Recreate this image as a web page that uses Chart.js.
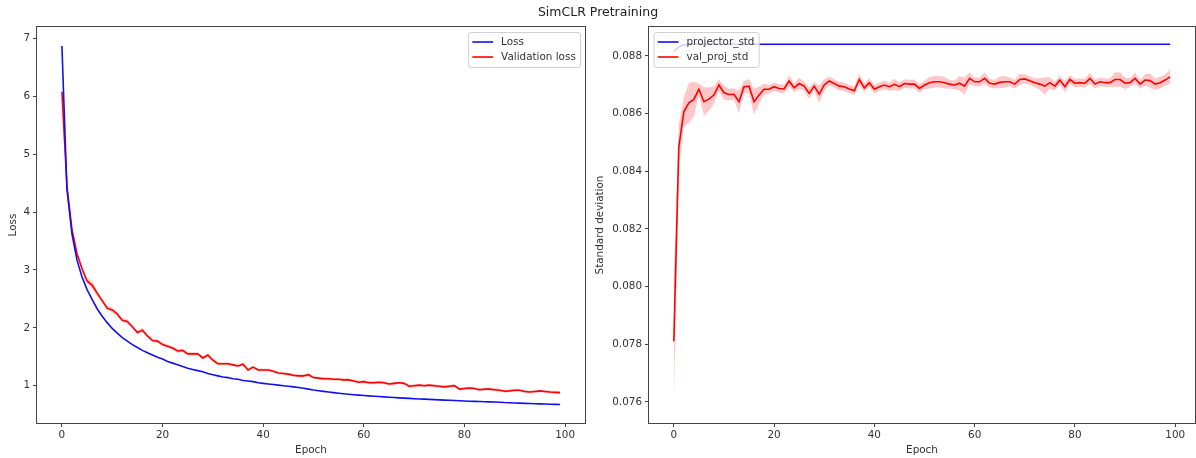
<!DOCTYPE html>
<html><head><meta charset="utf-8">
<script src="https://cdn.jsdelivr.net/npm/chart.js@4.4.1/dist/chart.umd.min.js"></script>
<style>
html,body{margin:0;padding:0;background:#fff;width:1196px;height:458px;overflow:hidden;}
#c1{position:absolute;left:0;top:0;}
#c2{position:absolute;left:590px;top:0;}
#title{position:absolute;left:0;top:5px;width:1196px;text-align:center;font-family:"DejaVu Sans";font-size:12.5px;line-height:14px;color:#222;}
</style></head><body>
<canvas id="c1" width="590" height="458"></canvas>
<canvas id="c2" width="606" height="458"></canvas>
<div id="title">SimCLR Pretraining</div>
<script>
// ---------- data ----------
const epochs = Array.from({length: 100}, (_, i) => i);
const xTicks = [0, 20, 40, 60, 80, 100];
const lossTicks = [1, 2, 3, 4, 5, 6, 7];
const stdTicks = [0.076, 0.078, 0.080, 0.082, 0.084, 0.086, 0.088];

const trainLoss = [6.87,4.40,3.62,3.17,2.88,2.66,2.49,2.33,2.20,2.09,
  1.99,1.91,1.83,1.77,1.71,1.66,1.61,1.57,1.53,1.49,
  1.46,1.42,1.39,1.36,1.33,1.30,1.28,1.26,1.24,1.21,
  1.19,1.17,1.15,1.14,1.12,1.11,1.09,1.08,1.07,1.05,
  1.04,1.03,1.02,1.01,1.00,0.99,0.98,0.97,0.955,0.94,
  0.925,0.913,0.902,0.891,0.88,0.87,0.861,0.852,0.844,0.837,
  0.83,0.824,0.818,0.812,0.806,0.80,0.795,0.79,0.785,0.78,
  0.775,0.771,0.767,0.763,0.759,0.755,0.751,0.747,0.743,0.739,
  0.735,0.732,0.729,0.726,0.723,0.72,0.717,0.714,0.709,0.706,
  0.702,0.699,0.695,0.692,0.689,0.686,0.683,0.68,0.677,0.674];

const valLoss = [6.08,4.45,3.70,3.28,3.02,2.81,2.74,2.60,2.47,2.34,
  2.31,2.24,2.13,2.11,2.02,1.92,1.96,1.86,1.78,1.77,
  1.71,1.68,1.65,1.60,1.61,1.55,1.55,1.55,1.48,1.53,
  1.44,1.38,1.38,1.38,1.36,1.34,1.37,1.27,1.32,1.27,
  1.27,1.27,1.25,1.22,1.21,1.20,1.18,1.17,1.17,1.19,
  1.14,1.13,1.12,1.12,1.11,1.11,1.10,1.10,1.08,1.06,
  1.07,1.05,1.05,1.06,1.05,1.03,1.04,1.05,1.04,0.99,
  1.00,1.01,1.00,1.01,1.00,0.99,0.98,0.99,1.00,0.94,
  0.95,0.96,0.95,0.93,0.94,0.94,0.93,0.92,0.905,0.91,
  0.92,0.92,0.90,0.89,0.90,0.91,0.90,0.89,0.885,0.88];

const valLossStd = [0.05,0.05,0.05,0.05,0.04,0.05,0.06,0.05,0.04,0.04,
  0.04,0.04,0.03,0.04,0.03,0.03,0.04,0.03,0.03,0.03,
  0.03,0.03,0.03,0.03,0.03,0.03,0.03,0.03,0.03,0.03,
  0.03,0.025,0.025,0.025,0.025,0.025,0.03,0.03,0.025,0.025,
  0.025,0.025,0.025,0.025,0.025,0.025,0.025,0.025,0.025,0.025,
  0.025,0.025,0.025,0.025,0.025,0.025,0.025,0.025,0.025,0.025,
  0.025,0.025,0.025,0.025,0.025,0.025,0.025,0.025,0.025,0.025,
  0.025,0.025,0.025,0.025,0.025,0.025,0.025,0.025,0.025,0.025,
  0.025,0.025,0.025,0.025,0.025,0.025,0.025,0.025,0.025,0.025,
  0.025,0.025,0.025,0.025,0.025,0.025,0.025,0.025,0.025,0.025];

const projectorStd = [0.08814,0.08832,0.08838,0.0884,0.0884,0.0884,0.0884,0.0884,0.0884,0.0884,
  0.0884,0.0884,0.0884,0.0884,0.0884,0.0884,0.0884,0.0884,0.0884,0.0884,
  0.0884,0.0884,0.0884,0.0884,0.0884,0.0884,0.0884,0.0884,0.0884,0.0884,
  0.0884,0.0884,0.0884,0.0884,0.0884,0.0884,0.0884,0.0884,0.0884,0.0884,
  0.0884,0.0884,0.0884,0.0884,0.0884,0.0884,0.0884,0.0884,0.0884,0.0884,
  0.0884,0.0884,0.0884,0.0884,0.0884,0.0884,0.0884,0.0884,0.0884,0.0884,
  0.0884,0.0884,0.0884,0.0884,0.0884,0.0884,0.0884,0.0884,0.0884,0.0884,
  0.0884,0.0884,0.0884,0.0884,0.0884,0.0884,0.0884,0.0884,0.0884,0.0884,
  0.0884,0.0884,0.0884,0.0884,0.0884,0.0884,0.0884,0.0884,0.0884,0.0884,
  0.0884,0.0884,0.0884,0.0884,0.0884,0.0884,0.0884,0.0884,0.0884,0.0884];

const valProjStd = [0.07810,0.08485,0.08606,0.08637,0.08649,0.08684,0.08641,0.08650,0.08664,0.08699,
  0.08672,0.08666,0.08667,0.08641,0.08693,0.08695,0.08641,0.08664,0.08684,0.08684,
  0.08693,0.08687,0.08685,0.08713,0.08689,0.08704,0.08695,0.08670,0.08695,0.08667,
  0.08699,0.08713,0.08704,0.08695,0.08693,0.08685,0.08679,0.08718,0.08689,0.08707,
  0.08684,0.08693,0.08699,0.08693,0.08701,0.08693,0.08704,0.08702,0.08702,0.08687,
  0.08699,0.08707,0.08710,0.08710,0.08707,0.08702,0.08699,0.08705,0.08695,0.08722,
  0.08710,0.08710,0.08722,0.08705,0.08702,0.08708,0.08710,0.08710,0.08702,0.08718,
  0.08720,0.08714,0.08707,0.08702,0.08695,0.08707,0.08695,0.08716,0.08693,0.08718,
  0.08705,0.08707,0.08705,0.08722,0.08702,0.08710,0.08707,0.08707,0.08718,0.08718,
  0.08705,0.08707,0.08722,0.08702,0.08716,0.08714,0.08702,0.08707,0.08716,0.08727];

const valProjStdDev = [0.0022,0.0008,0.0005,0.0007,0.0006,0.0002,0.0005,0.0004,0.0003,0.0002,
  0.00025,0.0002,0.0002,0.0004,0.0002,0.00025,0.00045,0.0003,0.0002,0.00015,
  0.00015,0.00015,0.00015,0.0002,0.00015,0.0002,0.00015,0.0002,0.00015,0.0003,
  0.0002,0.00015,0.00015,0.00015,0.00015,0.00015,0.00015,0.0002,0.00015,0.00015,
  0.00015,0.00015,0.00015,0.00015,0.0002,0.00015,0.00015,0.00015,0.00015,0.00015,
  0.00015,0.0002,0.0002,0.0002,0.0002,0.00015,0.00015,0.00025,0.0003,0.0002,
  0.00015,0.00015,0.0002,0.00015,0.00015,0.0002,0.0002,0.00015,0.00015,0.0002,
  0.00015,0.00015,0.00015,0.0002,0.0003,0.0002,0.00015,0.00015,0.0002,0.00015,
  0.00015,0.00015,0.00015,0.0002,0.00015,0.00015,0.00015,0.00015,0.00025,0.00025,
  0.0002,0.00015,0.0002,0.00015,0.0002,0.00025,0.0002,0.0002,0.0002,0.00025];

// ---------- style ----------
const FONT = 'DejaVu Sans';
const FS = 10.4;
const TXT = '#333';
const AX = '#444';
const BLUE = '#1010f0';
const RED = '#ff0000';
const BAND = 'rgba(255,0,0,0.22)';
const LW = 1.6;

// frame + matplotlib-like legend
const mplDecor = {
  id: 'mplDecor',
  afterDatasetsDraw(chart, args, opts) {
    const ctx = chart.ctx, a = chart.chartArea;
    ctx.save();
    ctx.strokeStyle = AX; ctx.lineWidth = 1;
    const l = Math.round(a.left) - 0.5, t = Math.round(a.top) - 0.5;
    const r = Math.round(a.right) + 0.5, b = Math.round(a.bottom) + 0.5;
    ctx.strokeRect(l, t, r - l, b - t);
    // legend
    const items = chart.data.datasets.filter(d => d.label && d.label[0] !== '_');
    ctx.font = FS + 'px "' + FONT + '"';
    const pad = 4.2, handle = 20.8, gap = 8.0, rowH = 15;
    const tw = Math.max(...items.map(d => ctx.measureText(d.label).width));
    const w = pad + handle + gap + tw + pad;
    const h = 35;
    const x = opts.loc === 'right' ? a.right - 5 - w : a.left + 4.5;
    const y = a.top + 5;
    ctx.beginPath();
    ctx.roundRect(x + 0.5, y + 0.5, w, h, 2.5);
    ctx.fillStyle = 'rgba(255,255,255,0.8)';
    ctx.fill();
    ctx.strokeStyle = '#d0d0d0';
    ctx.lineWidth = 1;
    ctx.stroke();
    items.forEach((d, i) => {
      const cy = y + 10 + i * rowH;
      ctx.beginPath();
      ctx.moveTo(x + pad, cy); ctx.lineTo(x + pad + handle, cy);
      ctx.strokeStyle = d.borderColor; ctx.lineWidth = LW; ctx.stroke();
      ctx.fillStyle = TXT; ctx.textBaseline = 'middle'; ctx.textAlign = 'left';
      ctx.fillText(d.label, x + pad + handle + gap, cy);
    });
    ctx.restore();
  }
};

function makeOptions(cfg) {
  const font = { family: FONT, size: FS };
  return {
    responsive: false, animation: false, devicePixelRatio: 1, events: [],
    layout: { padding: { left: 0, right: cfg.padRight, top: 27, bottom: 0 } },
    elements: { point: { radius: 0 }, line: { tension: 0 } },
    scales: {
      x: {
        type: 'linear', min: -4.95, max: 103.95,
        afterBuildTicks: s => { s.ticks = xTicks.map(v => ({ value: v })); },
        afterFit: s => { s.height = 35; },
        ticks: { color: TXT, font, padding: 2, maxRotation: 0, autoSkip: false, callback: v => String(v) },
        grid: { display: true, drawOnChartArea: false, drawTicks: true, tickLength: 4, tickColor: AX, tickWidth: 1 },
        border: { display: false },
        title: { display: true, text: 'Epoch', color: TXT, font, padding: { top: 0, bottom: 1 } }
      },
      y: {
        type: 'linear', min: cfg.yMin, max: cfg.yMax,
        afterBuildTicks: s => { s.ticks = cfg.yTicks.map(v => ({ value: v })); },
        afterFit: s => { s.width = cfg.yWidth; },
        ticks: { color: TXT, font, padding: 3, autoSkip: false, callback: cfg.fmt },
        grid: { display: true, drawOnChartArea: false, drawTicks: true, tickLength: 4, tickColor: AX, tickWidth: 1 },
        border: { display: false },
        title: { display: true, text: cfg.yTitle, color: TXT, font, padding: { top: cfg.yTitlePad, bottom: 0 } }
      }
    },
    plugins: { legend: { display: false }, tooltip: { enabled: false }, mplDecor: { loc: cfg.legendLoc } }
  };
}

const valLossUpper = valLoss.map((v, i) => v + valLossStd[i]);
const valLossLower = valLoss.map((v, i) => v - valLossStd[i]);
const valProjUpper = valProjStd.map((v, i) => v + valProjStdDev[i]);
const valProjLower = valProjStd.map((v, i) => v - valProjStdDev[i]);

new Chart(document.getElementById('c1'), {
  type: 'line',
  data: {
    labels: epochs,
    datasets: [
      { label: 'Loss', data: trainLoss, borderColor: BLUE, borderWidth: LW, fill: false },
      { label: 'Validation loss', data: valLoss, borderColor: RED, borderWidth: LW, fill: false },
      { label: '_upper', data: valLossUpper, borderWidth: 0, borderColor: 'rgba(0,0,0,0)', backgroundColor: BAND, fill: '+1' },
      { label: '_lower', data: valLossLower, borderWidth: 0, borderColor: 'rgba(0,0,0,0)', fill: false }
    ]
  },
  options: makeOptions({ yMin: 0.355, yMax: 7.2, yTicks: lossTicks, fmt: v => String(v), yTitle: 'Loss', yWidth: 37, yTitlePad: 7, padRight: 5, legendLoc: 'right' }),
  plugins: [mplDecor]
});

new Chart(document.getElementById('c2'), {
  type: 'line',
  data: {
    labels: epochs,
    datasets: [
      { label: 'projector_std', data: projectorStd, borderColor: BLUE, borderWidth: LW, fill: false },
      { label: 'val_proj_std', data: valProjStd, borderColor: RED, borderWidth: LW, fill: false },
      { label: '_upper', data: valProjUpper, borderWidth: 0, borderColor: 'rgba(0,0,0,0)', backgroundColor: BAND, fill: '+1' },
      { label: '_lower', data: valProjLower, borderWidth: 0, borderColor: 'rgba(0,0,0,0)', fill: false }
    ]
  },
  options: makeOptions({ yMin: 0.07527, yMax: 0.0890, yTicks: stdTicks, fmt: v => v.toFixed(3), yTitle: 'Standard deviation', yWidth: 59, yTitlePad: 4.5, padRight: 1, legendLoc: 'left' }),
  plugins: [mplDecor]
});
</script>
</body></html>
